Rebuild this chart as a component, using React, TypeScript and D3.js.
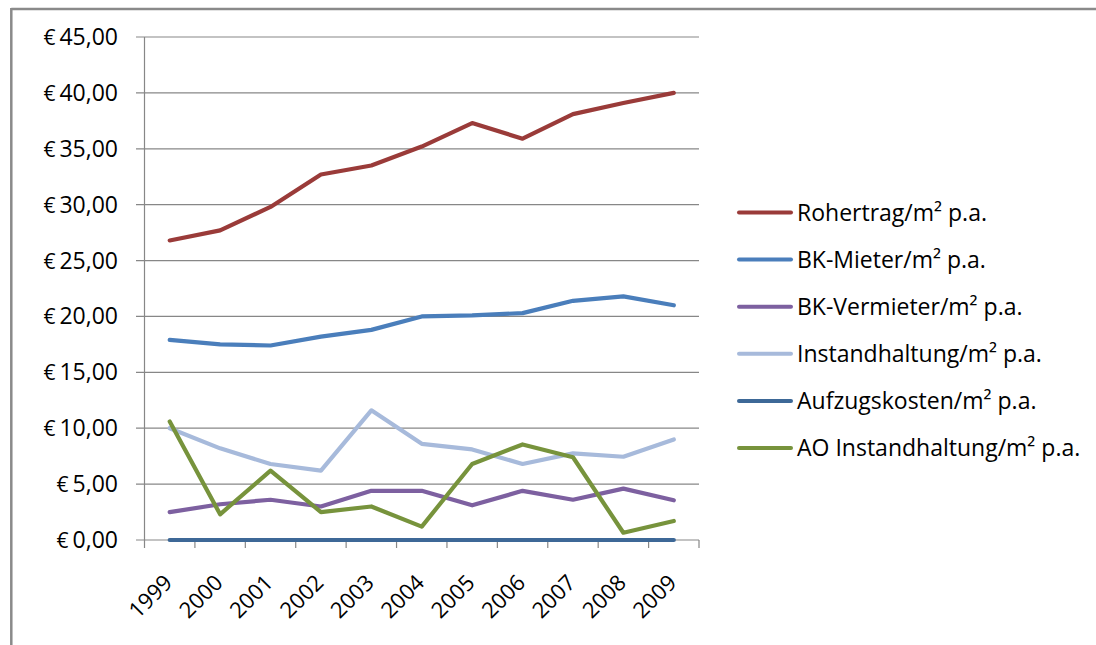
import React from "react";
import * as d3 from "d3";

const years = ["1999", "2000", "2001", "2002", "2003", "2004", "2005", "2006", "2007", "2008", "2009"];
const yTicks = [0, 5, 10, 15, 20, 25, 30, 35, 40, 45];

const rohertrag = [26.8, 27.7, 29.8, 32.7, 33.5, 35.2, 37.3, 35.9, 38.1, 39.1, 40.0];
const bkMieter = [17.9, 17.5, 17.4, 18.2, 18.8, 20.0, 20.1, 20.3, 21.4, 21.8, 21.0];
const bkVermieter = [2.5, 3.2, 3.6, 3.0, 4.4, 4.4, 3.1, 4.4, 3.6, 4.6, 3.55];
const instandhaltung = [10.0, 8.2, 6.8, 6.2, 11.6, 8.6, 8.1, 6.8, 7.75, 7.45, 9.0];
const aufzugskosten = [0, 0, 0, 0, 0, 0, 0, 0, 0, 0, 0];
const aoInstandhaltung = [10.6, 2.3, 6.2, 2.5, 3.0, 1.2, 6.8, 8.55, 7.4, 0.65, 1.7];

const seriesNames = [
  "Rohertrag/m² p.a.",
  "BK-Mieter/m² p.a.",
  "BK-Vermieter/m² p.a.",
  "Instandhaltung/m² p.a.",
  "Aufzugskosten/m² p.a.",
  "AO Instandhaltung/m² p.a.",
];
const seriesValues = [rohertrag, bkMieter, bkVermieter, instandhaltung, aufzugskosten, aoInstandhaltung];
const seriesColors = ["#9A3B39", "#4A7EBB", "#7D60A0", "#A7BADB", "#3D6897", "#77933C"];

const FONT = "'Open Sans', sans-serif";

export default function App() {
  const x = d3.scaleBand<string>().domain(years).range([144.5, 699]).padding(0);
  const y = d3.scaleLinear().domain([0, 45]).range([540, 37]);
  const cx = (yr: string) => (x(yr) as number) + x.bandwidth() / 2;
  const line = d3
    .line<number>()
    .x((_, i) => cx(years[i]))
    .y((v) => y(v));
  const fmt = (v: number) => v.toFixed(2).replace(".", ",");
  const grid = "#878787";

  return (
    <svg
      width={1096}
      height={645}
      style={{ position: "absolute", left: 0, top: 0, background: "#fff" }}
      fontFamily={FONT}
    >
      <rect x={0} y={0} width={1096} height={645} fill="#fff" />
      {/* frame */}
      <line x1={11.3} y1={9} x2={1096} y2={9} stroke="#8a8a8a" strokeWidth={2.5} />
      <line x1={11.3} y1={8} x2={11.3} y2={645} stroke="#8a8a8a" strokeWidth={2.5} />

      {/* gridlines */}
      {yTicks.map((t) => (
        <line key={t} x1={136} x2={699} y1={y(t)} y2={y(t)} stroke={grid} strokeWidth={1.2} />
      ))}
      {/* y axis */}
      <line x1={144.5} x2={144.5} y1={37} y2={548} stroke={grid} strokeWidth={1.2} />
      {/* x ticks */}
      {years.map((yr) => (
        <line key={yr} x1={(x(yr) as number) + x.bandwidth()} x2={(x(yr) as number) + x.bandwidth()} y1={540} y2={548} stroke={grid} strokeWidth={1.2} />
      ))}

      {/* y labels */}
      {yTicks.map((t) => (
        <text key={t} x={118} y={y(t) + 8} textAnchor="end" fontSize={23} fill="#000">
          <tspan fontSize={21}>€</tspan>
          <tspan dx={4}>{fmt(t)}</tspan>
        </text>
      ))}
      {/* x labels */}
      {years.map((yr) => (
        <text
          key={yr}
          transform={`translate(${cx(yr) + 4},584) rotate(-45)`}
          textAnchor="end"
          fontSize={22}
          fill="#000"
        >
          {yr}
        </text>
      ))}

      {/* series */}
      {seriesValues.map((vals, i) => (
        <path
          key={i}
          d={line(vals) as string}
          fill="none"
          stroke={seriesColors[i]}
          strokeWidth={4.2}
          strokeLinejoin="round"
          strokeLinecap="round"
        />
      ))}

      {/* legend */}
      {seriesNames.map((name, i) => {
        const ly = 212.5 + i * 47.1;
        return (
          <g key={name}>
            <line x1={739} x2={791} y1={ly} y2={ly} stroke={seriesColors[i]} strokeWidth={4} strokeLinecap="round" />
            <text x={797} y={ly + 8} fontSize={23} fill="#000">
              {name}
            </text>
          </g>
        );
      })}
    </svg>
  );
}
